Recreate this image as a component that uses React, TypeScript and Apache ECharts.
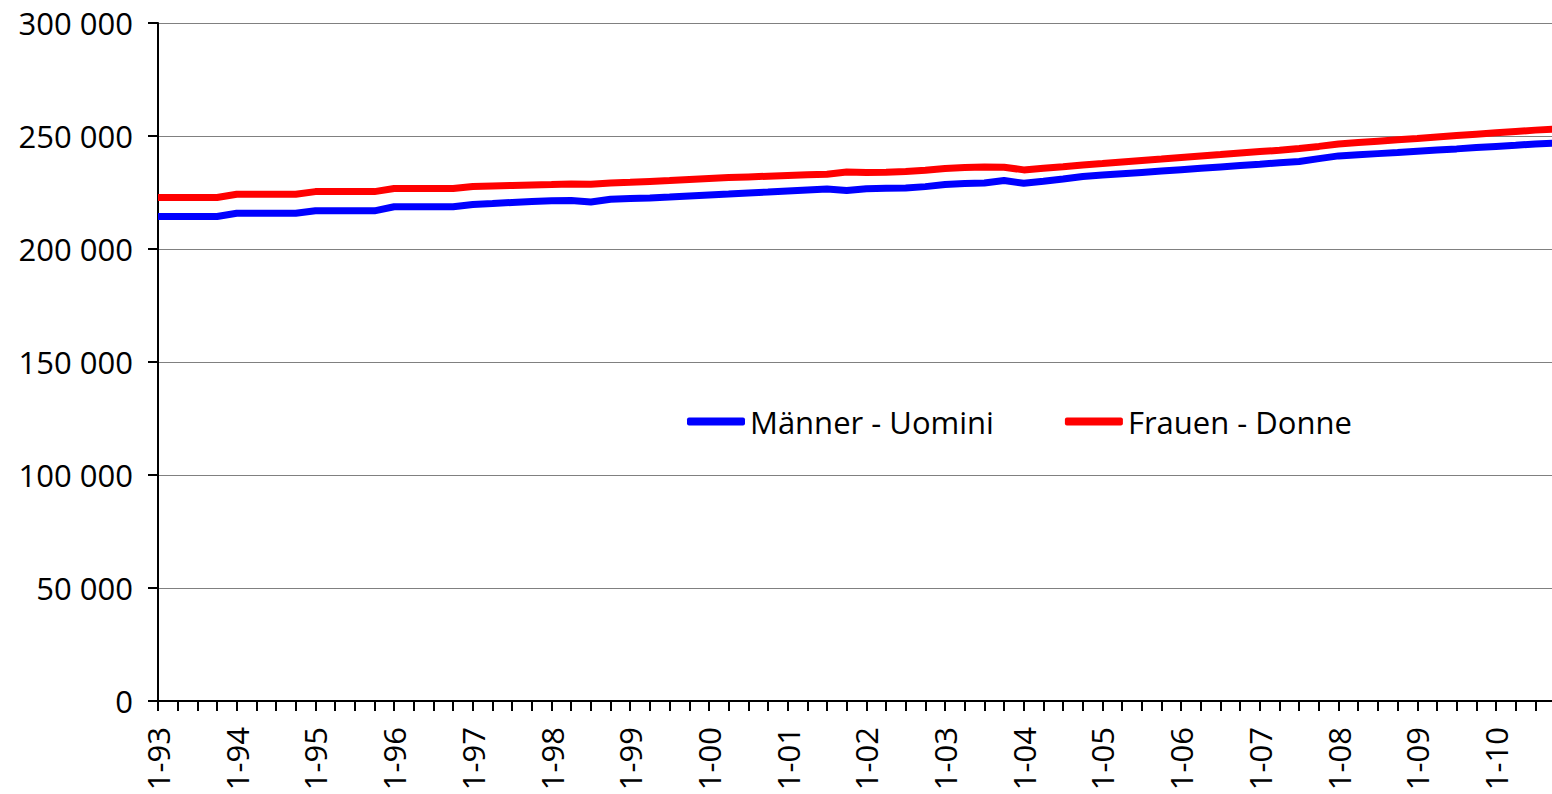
import React, { useEffect, useRef } from "react";
import * as echarts from "echarts";

const years = ["93", "94", "95", "96", "97", "98", "99", "00", "01", "02", "03", "04", "05", "06", "07", "08", "09", "10"];
const quarters = ["1", "2", "3", "4"];
const categories: string[] = [];
years.forEach((y) => quarters.forEach((q) => categories.push(`${q}-${y}`)));

const maenner = [
  214400, 214400, 214400, 214400, 215800, 215800, 215800, 215800,
  216900, 216900, 216900, 216900, 218700, 218700, 218700, 218700,
  219700, 220100, 220600, 221000, 221400, 221500, 220800, 222000,
  222300, 222600, 223000, 223500, 223900, 224300, 224800, 225200,
  225700, 226100, 226500, 225900, 226700, 226900, 227000, 227600,
  228500, 229000, 229200, 230300, 229100, 230000, 231000, 232100,
  232700, 233300, 233900, 234500, 235100, 235700, 236300, 236900,
  237500, 238200, 238700, 240000, 241200, 241700, 242200, 242700,
  243300, 243800, 244300, 244900, 245400, 245900, 246500, 246900,
];

const frauen = [
  222800, 222800, 222800, 222800, 224200, 224200, 224200, 224200,
  225400, 225400, 225400, 225400, 226800, 226800, 226800, 226800,
  227700, 227900, 228100, 228300, 228500, 228800, 228600, 229200,
  229500, 229900, 230300, 230800, 231200, 231600, 231900, 232200,
  232500, 232800, 233100, 234100, 233800, 234000, 234300, 234800,
  235600, 236100, 236300, 236200, 235000, 235700, 236400, 237200,
  237800, 238500, 239200, 239800, 240500, 241200, 241800, 242500,
  243100, 243700, 244500, 245400, 246500, 247100, 247700, 248300,
  248900, 249600, 250200, 250800, 251400, 252000, 252600, 253100,
];

const seriesNames = ["Männer - Uomini", "Frauen - Donne"];
const yTicks = { min: 0, max: 300000, interval: 50000 };

const FONT = "Open Sans";

export default function App() {
  const ref = useRef<HTMLDivElement>(null);

  useEffect(() => {
    if (!ref.current) return;
    const chart = echarts.init(ref.current, undefined, { renderer: "svg" });
    chart.setOption({
      animation: false,
      backgroundColor: "#ffffff",
      textStyle: { fontFamily: FONT, color: "#000" },
      grid: { left: 158, top: 23, width: 1397, height: 678, containLabel: false },
      legend: {
        left: 687,
        top: 406,
        padding: 0,
        icon: "roundRect",
        itemWidth: 58,
        itemHeight: 8,
        itemGap: 71,
        textStyle: { fontFamily: FONT, fontSize: 31, color: "#000" },
        data: seriesNames,
      },
      xAxis: {
        type: "category",
        data: categories,
        boundaryGap: false,
        axisLine: { lineStyle: { color: "#000", width: 2 } },
        axisTick: { show: true, interval: 0, length: 10, lineStyle: { color: "#000", width: 2 } },
        axisLabel: {
          interval: 3,
          rotate: 90,
          margin: 26,
          fontFamily: FONT,
          fontSize: 31,
          color: "#000",
        },
        splitLine: { show: false },
      },
      yAxis: {
        type: "value",
        min: yTicks.min,
        max: yTicks.max,
        interval: yTicks.interval,
        axisLine: { show: true, lineStyle: { color: "#000", width: 2 } },
        axisTick: { show: true, length: 10, lineStyle: { color: "#000", width: 2 } },
        axisLabel: {
          margin: 25,
          fontFamily: FONT,
          fontSize: 31,
          color: "#000",
          formatter: (v: number) => String(v).replace(/\B(?=(\d{3})+(?!\d))/g, " "),
        },
        splitLine: { show: true, lineStyle: { color: "#808080", width: 1 } },
      },
      series: [
        {
          name: seriesNames[0],
          type: "line",
          data: maenner,
          symbol: "none",
          lineStyle: { color: "#0000ff", width: 7 },
          itemStyle: { color: "#0000ff" },
        },
        {
          name: seriesNames[1],
          type: "line",
          data: frauen,
          symbol: "none",
          lineStyle: { color: "#ff0000", width: 7 },
          itemStyle: { color: "#ff0000" },
        },
      ],
    });
    return () => chart.dispose();
  }, []);

  return (
    <div
      style={{
        position: "fixed",
        left: 0,
        top: 0,
        width: 1552,
        height: 794,
        overflow: "hidden",
        background: "#fff",
      }}
    >
      <div ref={ref} style={{ width: 1600, height: 840 }} />
    </div>
  );
}
